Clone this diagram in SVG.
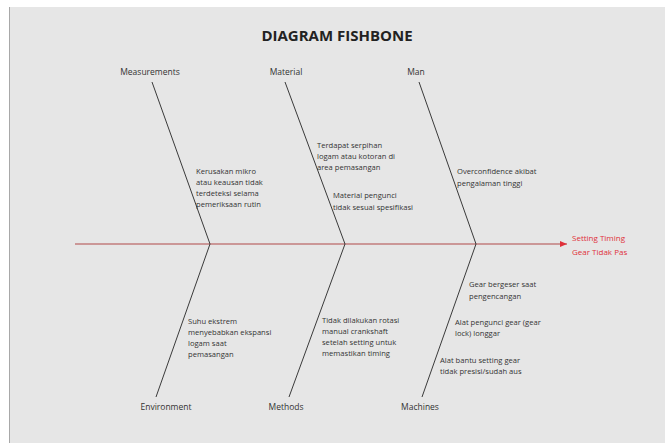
<svg xmlns="http://www.w3.org/2000/svg" width="665" height="443" viewBox="0 0 665 443">
<defs>
<style>
.t{font-family:"Open Sans","Liberation Sans",sans-serif;font-size:8.5px;fill:#333}
.c{font-family:"Open Sans","Liberation Sans",sans-serif;font-size:7.6px;fill:#333}
.h{font-family:"Open Sans","Liberation Sans",sans-serif;font-size:15px;font-weight:bold;fill:#222}
.r{font-family:"Open Sans","Liberation Sans",sans-serif;font-size:8px;fill:#e0303a}
.bone{stroke:#3a3a3a;stroke-width:1;fill:none}
</style>
<marker id="arr" markerWidth="8" markerHeight="8" refX="7" refY="4" orient="auto" markerUnits="userSpaceOnUse">
<path d="M0,1 L7,4 L0,7 Z" fill="#e0303a"/>
</marker>
</defs>
<rect width="665" height="443" fill="#ffffff"/>
<rect x="9" y="7" width="656" height="436" fill="#e6e6e6"/>
<line x1="9.5" y1="7" x2="9.5" y2="443" stroke="#a8a8a8" stroke-width="1"/>
<text class="h" x="337" y="41" text-anchor="middle">DIAGRAM FISHBONE</text>
<g id="connectors">
<line x1="75" y1="244" x2="567" y2="244" stroke="#b04848" stroke-width="1.2" marker-end="url(#arr)"/>
<line class="bone" x1="152" y1="82" x2="210" y2="244"/>
<line class="bone" x1="285" y1="82" x2="345" y2="244"/>
<line class="bone" x1="419" y1="82" x2="476" y2="244"/>
<line class="bone" x1="210" y1="244" x2="156" y2="397"/>
<line class="bone" x1="345" y1="244" x2="289" y2="397"/>
<line class="bone" x1="476" y1="244" x2="422" y2="397"/>
</g>
<g id="effect">
<text class="r" x="572" y="241">Setting Timing</text>
<text class="r" x="572" y="255">Gear Tidak Pas</text>
</g>
<g id="measurements">
<text class="t" x="150" y="75" text-anchor="middle">Measurements</text>
<text class="c" x="196" y="174">Kerusakan mikro</text>
<text class="c" x="196" y="185">atau keausan tidak</text>
<text class="c" x="196" y="196">terdeteksi selama</text>
<text class="c" x="196" y="207">pemeriksaan rutin</text>
</g>
<g id="material">
<text class="t" x="286" y="75" text-anchor="middle">Material</text>
<text class="c" x="317" y="148">Terdapat serpihan</text>
<text class="c" x="317" y="159">logam atau kotoran di</text>
<text class="c" x="317" y="170">area pemasangan</text>
<text class="c" x="333" y="198">Material pengunci</text>
<text class="c" x="333" y="210">tidak sesuai spesifikasi</text>
</g>
<g id="man">
<text class="t" x="416" y="75" text-anchor="middle">Man</text>
<text class="c" x="457" y="174">Overconfidence akibat</text>
<text class="c" x="457" y="186">pengalaman tinggi</text>
</g>
<g id="environment">
<text class="t" x="166" y="410" text-anchor="middle">Environment</text>
<text class="c" x="188" y="324">Suhu ekstrem</text>
<text class="c" x="188" y="335">menyebabkan ekspansi</text>
<text class="c" x="188" y="346">logam saat</text>
<text class="c" x="188" y="357">pemasangan</text>
</g>
<g id="methods">
<text class="t" x="286" y="410" text-anchor="middle">Methods</text>
<text class="c" x="322" y="323">Tidak dilakukan rotasi</text>
<text class="c" x="322" y="334">manual crankshaft</text>
<text class="c" x="322" y="345">setelah setting untuk</text>
<text class="c" x="322" y="356">memastikan timing</text>
</g>
<g id="machines">
<text class="t" x="420" y="410" text-anchor="middle">Machines</text>
<text class="c" x="469" y="287">Gear bergeser saat</text>
<text class="c" x="469" y="299">pengencangan</text>
<text class="c" x="455" y="325">Alat pengunci gear (gear</text>
<text class="c" x="455" y="336">lock) longgar</text>
<text class="c" x="440" y="363">Alat bantu setting gear</text>
<text class="c" x="440" y="374">tidak presisi/sudah aus</text>
</g>
</svg>
